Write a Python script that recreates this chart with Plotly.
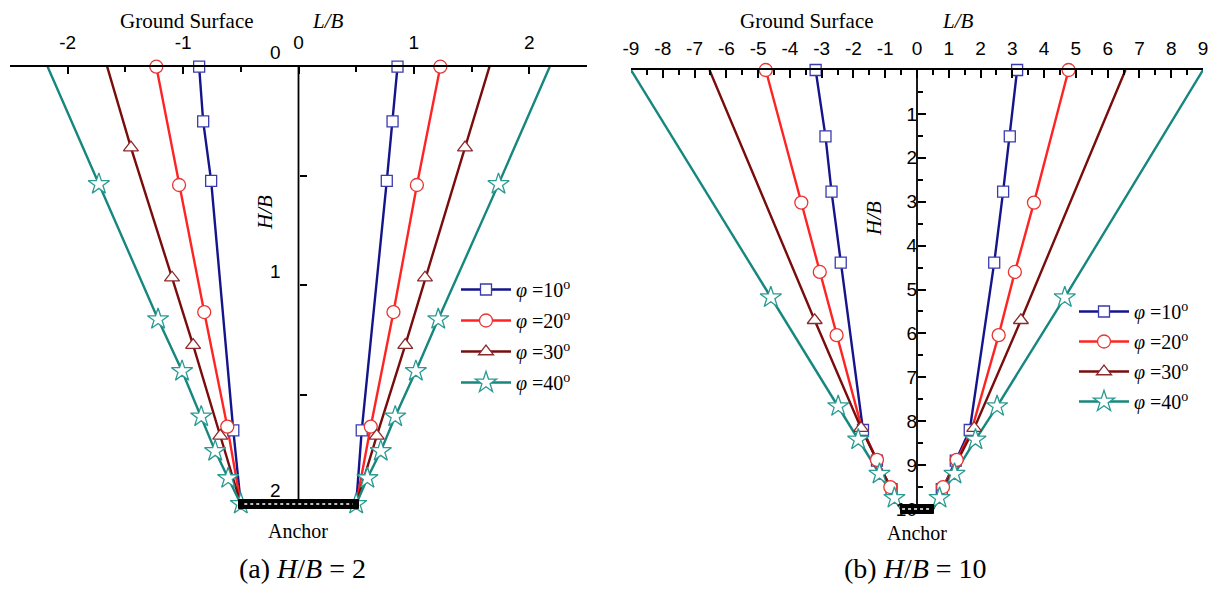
import plotly.graph_objects as go

W, H = 1218, 591

# ---------------- data: panel (a) H/B = 2 ----------------
A_BLUE_Y = [0.0, 0.25, 0.522, 1.663, 2.0]
A_BLUE_XR = [0.858, 0.815, 0.765, 0.548, 0.5]
A_BLUE_XL = [-0.861, -0.826, -0.757, -0.565, -0.5]
A_BLUE_MK = [1, 1, 1, 1, 0]

A_RED_Y = [0.0, 0.541, 1.122, 1.646, 2.0]
A_RED_XR = [1.229, 1.026, 0.823, 0.626, 0.5]
A_RED_XL = [-1.232, -1.035, -0.817, -0.617, -0.5]
A_RED_MK = [1, 1, 1, 1, 0]

A_BROWN_Y = [0.0, 0.37, 0.965, 1.273, 1.688, 2.0]
A_BROWN_XR = [1.655, 1.443, 1.096, 0.925, 0.678, 0.5]
A_BROWN_XL = [-1.658, -1.452, -1.096, -0.913, -0.678, -0.5]
A_BROWN_MK = [0, 1, 1, 1, 1, 0]

A_TEAL_Y = [0.0, 0.537, 1.155, 1.392, 1.60, 1.758, 1.882, 2.0]
A_TEAL_XR = [2.177, 1.733, 1.211, 1.017, 0.838, 0.713, 0.597, 0.5]
A_TEAL_XL = [-2.174, -1.730, -1.217, -1.009, -0.843, -0.722, -0.609, -0.5]
A_TEAL_MK = [0, 1, 1, 1, 1, 1, 1, 1]

# ---------------- data: panel (b) H/B = 10 ----------------
B_BLUE_Y = [0.0, 1.51, 2.77, 4.39, 8.2, 8.9, 9.55, 10.0]
B_BLUE_XR = [3.15, 2.92, 2.71, 2.43, 1.66, 1.22, 0.78, 0.5]
B_BLUE_XL = [-3.19, -2.88, -2.69, -2.40, -1.70, -1.26, -0.80, -0.5]
B_BLUE_MK = [1, 1, 1, 1, 1, 1, 1, 0]

B_RED_Y = [0.0, 3.02, 4.60, 6.04, 8.2, 8.88, 9.5, 10.0]
B_RED_XR = [4.77, 3.68, 3.08, 2.57, 1.72, 1.25, 0.82, 0.5]
B_RED_XL = [-4.76, -3.64, -3.06, -2.53, -1.72, -1.26, -0.84, -0.5]
B_RED_MK = [1, 1, 1, 1, 0, 1, 1, 0]

B_BROWN_Y = [0.0, 5.70, 8.16, 10.0]
B_BROWN_XR = [6.56, 3.27, 1.80, 0.5]
B_BROWN_XL = [-6.53, -3.22, -1.76, -0.5]
B_BROWN_MK = [0, 1, 1, 0]

B_TEAL_Y = [0.0, 5.18, 7.66, 8.42, 9.2, 9.75, 10.0]
B_TEAL_XR = [9.0, 4.65, 2.52, 1.84, 1.18, 0.71, 0.5]
B_TEAL_XL = [-9.0, -4.60, -2.48, -1.85, -1.18, -0.71, -0.5]
B_TEAL_MK = [0, 1, 1, 1, 1, 1, 0]

SERIES_NAMES = ["<i>φ</i> =10<sup>o</sup>", "<i>φ</i> =20<sup>o</sup>",
                "<i>φ</i> =30<sup>o</sup>", "<i>φ</i> =40<sup>o</sup>"]

A_X_TICKS = [-2, -1, 0, 1, 2]
A_X_MINOR = [-2.5, -1.5, -0.5, 0.5, 1.5, 2.5]
A_Y_TICKS = [0, 1, 2]
A_Y_MINOR = [0.5, 1.5]
B_X_TICKS = list(range(-9, 10))
B_X_MINOR = [v + 0.5 for v in range(-9, 9)]
B_Y_TICKS = list(range(1, 11))
B_Y_MINOR = [v + 0.5 for v in range(0, 10)]

# ---------------- styles ----------------
LINE_COLORS = ["#14148c", "#ff2424", "#7a0c0c", "#16877f"]
MARK_COLORS = ["#3a3ab0", "#e83434", "#8c2a2a", "#2a9a92"]
SYMBOLS = ["square", "circle", "triangle-up", "star"]
SIZES = [11, 13, 13, 16]
SERIF = "Liberation Serif"
SANS = "Liberation Sans"


def px_x(p):
    return p / W


def px_y(p):
    return (H - p) / H


fig = go.Figure()

panels = [
    ("x", "y", "legend", "a", [
        (A_BLUE_Y, A_BLUE_XL, A_BLUE_XR, A_BLUE_MK),
        (A_RED_Y, A_RED_XL, A_RED_XR, A_RED_MK),
        (A_BROWN_Y, A_BROWN_XL, A_BROWN_XR, A_BROWN_MK),
        (A_TEAL_Y, A_TEAL_XL, A_TEAL_XR, A_TEAL_MK),
    ]),
    ("x2", "y2", "legend2", "b", [
        (B_BLUE_Y, B_BLUE_XL, B_BLUE_XR, B_BLUE_MK),
        (B_RED_Y, B_RED_XL, B_RED_XR, B_RED_MK),
        (B_BROWN_Y, B_BROWN_XL, B_BROWN_XR, B_BROWN_MK),
        (B_TEAL_Y, B_TEAL_XL, B_TEAL_XR, B_TEAL_MK),
    ]),
]

for xa, ya, leg, tag, series in panels:
    # lines
    for i, (ys, xl, xr, mk) in enumerate(series):
        fig.add_trace(go.Scatter(
            x=list(xl) + [None] + list(xr), y=list(ys) + [None] + list(ys),
            mode="lines", line=dict(color=LINE_COLORS[i], width=2.4),
            xaxis=xa, yaxis=ya, showlegend=False, hoverinfo="skip"))
    # markers
    for i, (ys, xl, xr, mk) in enumerate(series):
        mx = [x for x, m in zip(xl, mk) if m] + [x for x, m in zip(xr, mk) if m]
        my = [y for y, m in zip(ys, mk) if m] * 2
        fig.add_trace(go.Scatter(
            x=mx, y=my, mode="markers", cliponaxis=False,
            marker=dict(symbol=SYMBOLS[i], size=SIZES[i], color="white",
                        line=dict(color=MARK_COLORS[i], width=1.3)),
            xaxis=xa, yaxis=ya, showlegend=False, hoverinfo="skip"))
    # legend entries
    for i in range(4):
        fig.add_trace(go.Scatter(
            x=[None], y=[None], mode="lines+markers", name=SERIES_NAMES[i],
            legendgroup=f"{tag}{i}",
            line=dict(color=LINE_COLORS[i], width=2.4),
            marker=dict(symbol=SYMBOLS[i], size=SIZES[i], color="white",
                        line=dict(color=MARK_COLORS[i], width=1.3)),
            xaxis=xa, yaxis=ya, legend=leg, showlegend=True))

# ---------------- axes geometry ----------------
A_LEFT, A_RIGHT = 10, 587
A_TOP, A_Y2 = 66.7, 504.0           # pixel rows of H/B = 0 and H/B = 2
A_UNIT = (A_Y2 - A_TOP) / 2
A_YMAX = 2.1
A_BOT = A_TOP + A_YMAX * A_UNIT

B_LEFT, B_RIGHT = 631, 1203
B_TOP, B_Y10 = 70.0, 509.0
B_UNIT = (B_Y10 - B_TOP) / 10
B_YMAX = 10.45
B_BOT = B_TOP + B_YMAX * B_UNIT

tickfont = dict(family=SANS, size=19, color="black")

fig.update_layout(
    width=W, height=H, autosize=False,
    margin=dict(l=0, r=0, t=0, b=0, autoexpand=False),
    paper_bgcolor="white", plot_bgcolor="white",
    xaxis=dict(domain=[px_x(A_LEFT), px_x(A_RIGHT)], range=[-2.5, 2.5], side="top",
               anchor="y", showline=True, linecolor="black", linewidth=2, automargin=False,
               showgrid=False, zeroline=False, ticks="inside", ticklen=7, tickwidth=1.6,
               tickcolor="black", tickvals=A_X_TICKS, ticktext=[str(v) for v in A_X_TICKS],
               ticklabelstandoff=8, tickfont=tickfont,
               minor=dict(tickvals=A_X_MINOR, ticks="inside", ticklen=5, tickwidth=1.6,
                          tickcolor="black", showgrid=False)),
    yaxis=dict(domain=[px_y(A_BOT), px_y(A_TOP)], range=[A_YMAX, 0], anchor="free",
               position=px_x((A_LEFT + A_RIGHT) / 2), side="left", automargin=False,
               showline=False, showgrid=False, zeroline=False,
               ticks="inside", ticklen=7, tickwidth=1.6, tickcolor="black",
               tickvals=A_Y_TICKS, ticktext=[str(v) for v in A_Y_TICKS],
               ticklabelstandoff=18, ticklabelshift=14, tickfont=tickfont,
               minor=dict(tickvals=A_Y_MINOR, ticks="inside", ticklen=7, tickwidth=1.6,
                          tickcolor="black", showgrid=False)),
    xaxis2=dict(domain=[px_x(B_LEFT), px_x(B_RIGHT)], range=[-9, 9], side="top",
                anchor="y2", showline=True, linecolor="black", linewidth=2, automargin=False,
                showgrid=False, zeroline=False, ticks="inside", ticklen=8, tickwidth=1.6,
                tickcolor="black", tickvals=B_X_TICKS, ticktext=[str(v) for v in B_X_TICKS],
                ticklabelstandoff=5, tickfont=tickfont,
                minor=dict(tickvals=B_X_MINOR, ticks="inside", ticklen=5, tickwidth=1.6,
                           tickcolor="black", showgrid=False)),
    yaxis2=dict(domain=[px_y(B_BOT), px_y(B_TOP)], range=[B_YMAX, 0], anchor="free",
                position=px_x((B_LEFT + B_RIGHT) / 2), side="left", automargin=False,
                showline=False, showgrid=False, zeroline=False,
                ticks="inside", ticklen=8, tickwidth=1.6, tickcolor="black",
                tickvals=B_Y_TICKS, ticktext=[str(v) for v in B_Y_TICKS],
                ticklabelstandoff=0, tickfont=tickfont,
                minor=dict(tickvals=B_Y_MINOR, ticks="inside", ticklen=5, tickwidth=1.6,
                           tickcolor="black", showgrid=False)),
    legend=dict(x=px_x(456), y=px_y(270), xanchor="left", yanchor="top",
                bgcolor="rgba(0,0,0,0)", borderwidth=0, itemwidth=50, tracegroupgap=2,
                font=dict(family=SERIF, size=20, color="black")),
    legend2=dict(x=px_x(1074), y=px_y(292), xanchor="left", yanchor="top",
                 bgcolor="rgba(0,0,0,0)", borderwidth=0, itemwidth=50, tracegroupgap=1,
                 font=dict(family=SERIF, size=20, color="black")),
)

# vertical H/B axis lines and anchors
shapes = []
for xr, yr, ymax in [("x", "y", 2.0), ("x2", "y2", 10.0)]:
    shapes.append(dict(type="line", xref=xr, yref=yr, x0=0, x1=0, y0=0, y1=ymax,
                       line=dict(color="black", width=1.8), layer="above"))
    shapes.append(dict(type="rect", xref=xr, yref=yr, x0=-0.52, x1=0.52,
                       ysizemode="pixel", yanchor=ymax, y0=-4.5, y1=4.5,
                       fillcolor="black", line=dict(color="black", width=1), layer="above"))
    shapes.append(dict(type="line", xref=xr, yref=yr, x0=-0.47, x1=0.47,
                       ysizemode="pixel", yanchor=ymax, y0=0, y1=0,
                       line=dict(color="white", width=1.6, dash="3px,3px"), layer="above"))
fig.update_layout(shapes=shapes)

ann = []


def text(s, x, y, size, angle=0):
    ann.append(dict(text=s, x=px_x(x), y=px_y(y), xref="paper", yref="paper",
                    xanchor="center", yanchor="middle", showarrow=False, textangle=angle,
                    font=dict(family=SERIF, size=size, color="black")))


text("Ground Surface", 187, 21, 21)
text("<i>L/B</i>", 328, 21, 21)
text("Ground Surface", 807, 21, 21)
text("<i>L/B</i>", 958, 21, 21)
text("<i>H/B</i>", 265, 213, 21, -90)
text("<i>H/B</i>", 874, 219, 21, -90)
text("Anchor", 298, 531, 20)
text("Anchor", 917, 533, 20)
text("(a) <i>H</i>/<i>B</i> = 2", 302, 568, 28)
text("(b) <i>H</i>/<i>B</i> = 10", 915, 568, 28)
fig.update_layout(annotations=ann)

fig.write_html("out.html")
